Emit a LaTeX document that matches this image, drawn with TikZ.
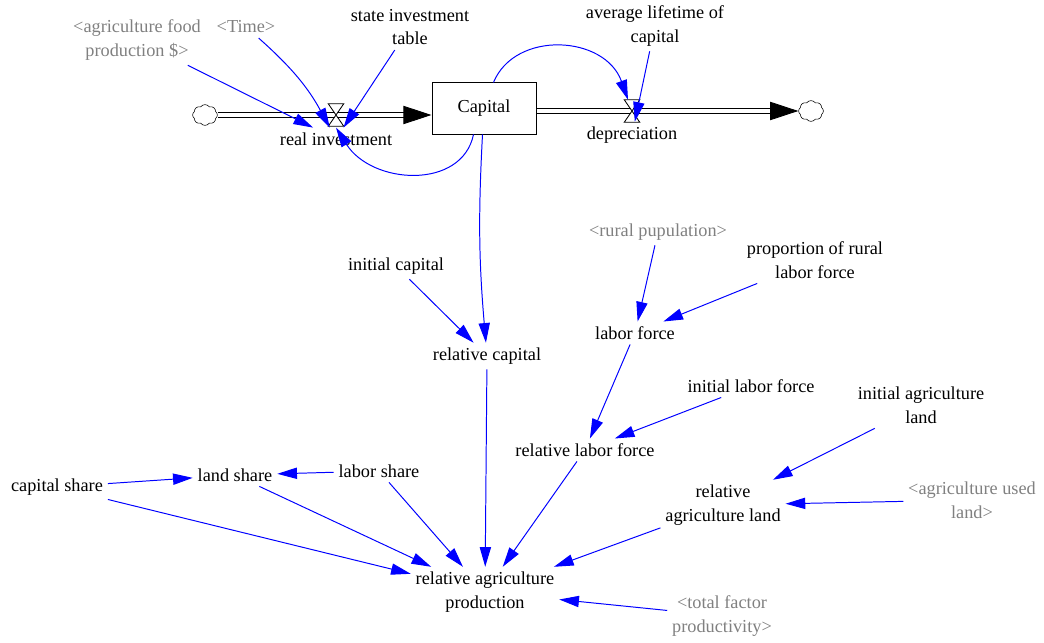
\documentclass[tikz,border=0pt]{standalone}
\usepackage{fontspec}
\setmainfont{Liberation Serif}
\usetikzlibrary{arrows.meta, shapes.symbols}
\definecolor{shadowgray}{RGB}{128,128,128}

\begin{document}
\begin{tikzpicture}[x = 0.025cm, y = -0.025cm, node distance = 0.6cm,
    font = \fontsize{13}{17}\selectfont,
    var/.style = {align=center},
    shadowvar/.style = {align=center, text=shadowgray},
    stockbox/.style = {draw, line width=0.7pt, minimum width=2.6cm, minimum height=1.275cm},
    valvebox/.style = {minimum width=0.375cm, minimum height=0.55cm, inner sep=0},
    cloudnode/.style = {cloud, draw, cloud puffs=8, cloud puff arc=110, fill=white,
      minimum width=0.62cm, minimum height=0.52cm, inner sep=0},
    pipeline/.style = {double, double distance=2.4pt, line width=0.6pt,
      -{Triangle[length=20pt, width=13pt]}},
    infolink/.style = {blue, line width=0.7pt, -{Triangle[length=14pt, width=8pt]}}]
    \useasboundingbox (0,0) rectangle (1044,643);
    % stock and flows
    \node[stockbox] (K) at (484,108.5) {Capital};
    \node[valvebox] (VI) at (336,115) {};
    \node[valvebox] (VD) at (632,111) {};
    \node[below of = VI] (RI) {real investment};
    \node[below of = VD] (DEP) {depreciation};
    \node[cloudnode] (CL) at (205,115) {};
    \node[cloudnode] (CR) at (811,111) {};
    \draw[pipeline] (CL) -- (K.west |- CL);
    \draw[pipeline] (K.east |- CR) -- (CR);
    \foreach \v in {VI, VD} {
      \draw[fill=white, line width=0.6pt] (\v.north west) -- (\v.north east)
        -- (\v.south west) -- (\v.south east) -- cycle;
    }
    % auxiliaries
    \node[shadowvar] (AF) at (137,40) {<agriculture food\\production \$>};
    \node[shadowvar] (TM) at (246,27) {<Time>};
    \node[var] (SI) at (410,27) {state investment\\table};
    \node[var] (AL) at (655,26) {average lifetime of\\capital};
    \node[shadowvar] (RP) at (658,232) {<rural pupulation>};
    \node[var] (PR) at (815,260) {proportion of rural\\labor force};
    \node[var] (IC) at (396,266) {initial capital};
    \node[var] (LF) at (635,333) {labor force};
    \node[var] (RC) at (487,356) {relative capital};
    \node[var] (ILF) at (751,386) {initial labor force};
    \node[var] (IAL) at (921,405) {initial agriculture\\land};
    \node[var] (RLF) at (585,450) {relative labor force};
    \node[var] (RAL) at (723,505) {relative\\agriculture land};
    \node[shadowvar] (AUL) at (972,500) {<agriculture used\\land>};
    \node[var] (CS) at (57,487) {capital share};
    \node[var] (LS) at (235,475) {land share};
    \node[var] (LBS) at (379,471) {labor share};
    \node[var] (RAP) at (485,592) {relative agriculture\\production};
    \node[shadowvar] (TFP) at (722,616) {<total factor\\productivity>};
    % links
    \draw[infolink] (TM) to[bend left=10] (RI);
    \draw[infolink] (K.70) .. controls (515,30) and (605,35) .. (VD);
    \draw[infolink] (K.-112) .. controls (462,190) and (372,185) .. (RI.north);
    \draw[infolink] (K) to[bend right=4] (RC);
    \foreach \i\j in {AF/RI, SI/RI, AL/DEP, IC/RC, RP/LF, PR/LF, LF/RLF, ILF/RLF,
      IAL/RAL, AUL/RAL, CS/LS, LBS/LS, CS/RAP, LS/RAP, LBS/RAP, RC/RAP, RLF/RAP,
      RAL/RAP, TFP/RAP} {
      \draw[infolink] (\i) -- (\j);
    }
  \end{tikzpicture}
\end{document}
